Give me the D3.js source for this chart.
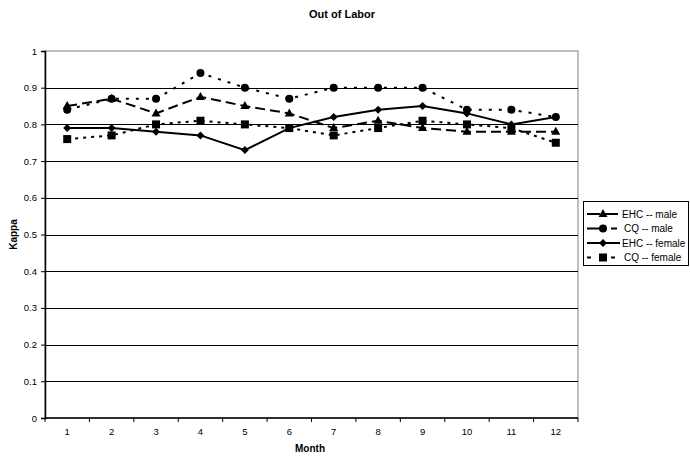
<!DOCTYPE html>
<html><head><meta charset="utf-8">
<script src="https://cdn.jsdelivr.net/npm/d3@7"></script>
<style>body{margin:0;background:#fff;}svg{display:block;font-family:"Liberation Sans",Arial,sans-serif;}</style>
</head><body>
<svg id="c" width="690" height="456"></svg>
<script>
const months = ["1","2","3","4","5","6","7","8","9","10","11","12"];
const yTicks = [0,0.1,0.2,0.3,0.4,0.5,0.6,0.7,0.8,0.9,1];
const ehcMale   = [0.85,0.87,0.83,0.875,0.85,0.83,0.79,0.81,0.79,0.78,0.78,0.78];
const cqMale    = [0.84,0.87,0.87,0.94,0.90,0.87,0.90,0.90,0.90,0.84,0.84,0.82];
const ehcFemale = [0.79,0.79,0.78,0.77,0.73,0.79,0.82,0.84,0.85,0.83,0.80,0.82];
const cqFemale  = [0.76,0.77,0.80,0.81,0.80,0.79,0.77,0.79,0.81,0.80,0.79,0.75];
const seriesNames = ["EHC -- male","CQ -- male","EHC -- female","CQ -- female"];

const series = [
  {name: seriesNames[0], values: ehcMale, dash: "10,5", marker: "triangle", ldash: "13,5", tx: 622},
  {name: seriesNames[1], values: cqMale, dash: "3,7", marker: "circle", ldash: "17,7,6,20", tx: 624},
  {name: seriesNames[2], values: ehcFemale, dash: null, marker: "diamond", ldash: null, tx: 622},
  {name: seriesNames[3], values: cqFemale, dash: "3,5", marker: "square", ldash: "4,8", tx: 624}
];

const svg = d3.select("#c");
const L = 45, R = 578, T = 51, B = 418;
const x = d3.scaleBand().domain(months).range([L, R]);
const y = d3.scaleLinear().domain([0,1]).range([B, T]);

// plot border
svg.append("rect").attr("x", L).attr("y", T).attr("width", R-L).attr("height", B-T)
  .attr("fill", "none").attr("stroke", "#808080").attr("stroke-width", 1);

// gridlines
svg.append("g").selectAll("line").data(yTicks.filter(d => d > 0 && d < 1)).join("line")
  .attr("x1", L).attr("x2", R).attr("y1", d => Math.round(y(d)) + 0.5).attr("y2", d => Math.round(y(d)) + 0.5)
  .attr("stroke", "#000").attr("stroke-width", 1);

// y axis
const yAxis = d3.axisLeft(y).tickValues(yTicks).tickSize(4).tickFormat(d => d === 0 ? "0" : d === 1 ? "1" : d3.format(".1f")(d));
const gy = svg.append("g").attr("transform", `translate(${L},0)`).call(yAxis);
gy.select(".domain").attr("stroke", "#000").attr("stroke-width", 1.5);
gy.selectAll(".tick line").attr("stroke", "#000");
gy.selectAll("text").attr("font-size", 9.5).attr("fill", "#000").attr("dx", -1);

// x axis
const gx = svg.append("g").attr("transform", `translate(0,${B})`);
gx.append("line").attr("x1", L).attr("x2", R).attr("y1", 0).attr("y2", 0).attr("stroke", "#000").attr("stroke-width", 1.5);
const boundaries = months.map(m => x(m)).concat([R]);
gx.selectAll("line.tk").data(boundaries).join("line").attr("class","tk")
  .attr("x1", d => d).attr("x2", d => d).attr("y1", 0).attr("y2", 4).attr("stroke", "#000");
gx.selectAll("text").data(months).join("text")
  .attr("x", d => x(d) + x.bandwidth()/2).attr("y", 17).attr("text-anchor", "middle")
  .attr("font-size", 9.5).text(d => d);

// lines
const line = d3.line().x((d,i) => x(months[i]) + x.bandwidth()/2).y(d => y(d));
function marker(g, type, cx, cy) {
  if (type === "triangle") g.append("path").attr("d", `M${cx},${cy-5}L${cx+4.5},${cy+3}L${cx-4.5},${cy+3}Z`);
  else if (type === "circle") g.append("circle").attr("cx", cx).attr("cy", cy).attr("r", 4);
  else if (type === "diamond") g.append("path").attr("d", `M${cx},${cy-4}L${cx+4},${cy}L${cx},${cy+4}L${cx-4},${cy}Z`);
  else g.append("rect").attr("x", cx-4).attr("y", cy-4).attr("width", 8).attr("height", 8);
}
series.forEach(s => {
  svg.append("path").datum(s.values).attr("d", line).attr("fill", "none")
    .attr("stroke", "#000").attr("stroke-width", 2).attr("stroke-dasharray", s.dash);
  const g = svg.append("g").attr("fill", "#000");
  s.values.forEach((v,i) => marker(g, s.marker, x(months[i]) + x.bandwidth()/2, y(v)));
});

// legend
const lg = svg.append("g");
lg.append("rect").attr("x", 583.5).attr("y", 201.5).attr("width", 105).attr("height", 64)
  .attr("fill", "#fff").attr("stroke", "#000");
series.forEach((s, i) => {
  const ly = 214 + i * 14.5;
  lg.append("line").attr("x1", 587).attr("x2", 620).attr("y1", ly).attr("y2", ly)
    .attr("stroke", "#000").attr("stroke-width", 2).attr("stroke-dasharray", s.ldash);
  const g = lg.append("g").attr("fill", "#000");
  marker(g, s.marker, 603, ly);
  lg.append("text").attr("x", s.tx).attr("y", ly + 3.5).attr("font-size", 10).text(s.name);
});

// titles
svg.append("text").attr("x", 342).attr("y", 18).attr("text-anchor", "middle")
  .attr("font-size", 11).attr("font-weight", "bold").text("Out of Labor");
svg.append("text").attr("x", 310).attr("y", 452).attr("text-anchor", "middle")
  .attr("font-size", 10).attr("font-weight", "bold").text("Month");
svg.append("text").attr("transform", `translate(17,${(T+B)/2}) rotate(-90)`).attr("text-anchor", "middle")
  .attr("font-size", 10).attr("font-weight", "bold").text("Kappa");
</script>
</body></html>
